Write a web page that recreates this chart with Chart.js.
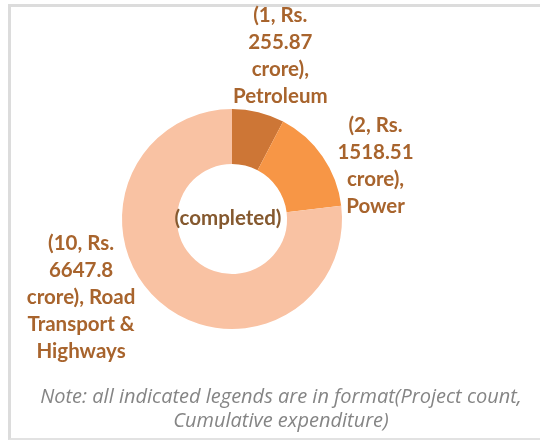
<!DOCTYPE html>
<html>
<head>
<meta charset="utf-8">
<script src="https://cdn.jsdelivr.net/npm/chart.js@4.4.1/dist/chart.umd.min.js"></script>
<style>
  html, body { margin: 0; padding: 0; background: #fff; }
  #wrap { position: relative; width: 540px; height: 444px; }
  #frame { position: absolute; left: 8px; top: 4px; width: 540px; height: 436px;
           border-top: 3px solid #dcdcdc; border-left: 3px solid #dcdcdc; border-bottom: 2px solid #e2e2e2; box-sizing: border-box; }
  canvas { position: absolute; left: 0; top: 0; }
</style>
</head>
<body>
<div id="wrap">
  <div id="frame"></div>
  <canvas id="c" width="540" height="444"></canvas>
</div>
<script>
// ---- data ----
const categories = ["Petroleum", "Power", "Road Transport & Highways"];
const projectCounts = [1, 2, 10];
const expenditureCrore = ["255.87", "1518.51", "6647.8"];
const sliceColors = ["#CD7636", "#F79646", "#F9C2A3"];
const centerText = "(completed)";
const noteLines = ["Note: all indicated legends are in format(Project count,", "Cumulative expenditure)"];
// label text lines (built from the data)
const labelLines = [
  ["(" + projectCounts[0] + ", Rs.", expenditureCrore[0], "crore),", categories[0]],
  ["(" + projectCounts[1] + ", Rs.", expenditureCrore[1], "crore),", categories[1]],
  ["(" + projectCounts[2] + ", Rs.", expenditureCrore[2], "crore), Road", "Transport &", "Highways"]
];
// label placement relative to arc: extra offset from the point at outer radius along mid angle
const labelOffsets = [[22, -56], [53, 9], [-78, -4]];

const labelPlugin = {
  id: 'labels',
  afterDatasetsDraw(chart) {
    const ctx = chart.ctx;
    const meta = chart.getDatasetMeta(0);
    ctx.save();
    ctx.textAlign = 'center';
    ctx.textBaseline = 'middle';
    ctx.fillStyle = '#A8642D';
    ctx.font = 'bold 20.5px Lato, "Open Sans", sans-serif';
    const lh = 27;
    meta.data.forEach((arc, i) => {
      const mid = (arc.startAngle + arc.endAngle) / 2;
      const r = arc.outerRadius;
      const bx = arc.x + Math.cos(mid) * r + labelOffsets[i][0];
      const by = arc.y + Math.sin(mid) * r + labelOffsets[i][1];
      const lines = labelLines[i];
      const top = by - (lines.length - 1) * lh / 2;
      lines.forEach((t, k) => ctx.fillText(t, bx, top + k * lh));
    });
    // center text
    const a0 = meta.data[0];
    ctx.fillStyle = '#85592F';
    ctx.font = 'bold 20.5px Lato, "Open Sans", sans-serif';
    ctx.fillText(centerText, a0.x - 4, a0.y - 1);
    // note
    ctx.fillStyle = '#858585';
    ctx.font = 'italic 20px "Open Sans", sans-serif';
    ctx.fillText(noteLines[0], 281, 397);
    ctx.fillText(noteLines[1], 281, 421);
    ctx.restore();
  }
};

new Chart(document.getElementById('c'), {
  type: 'doughnut',
  data: {
    labels: categories,
    datasets: [{
      data: projectCounts,
      backgroundColor: sliceColors,
      borderWidth: 0
    }]
  },
  options: {
    responsive: false,
    animation: false,
    cutout: '50%',
    layout: { padding: { left: 122, right: 198, top: 109, bottom: 115 } },
    plugins: { legend: { display: false }, tooltip: { enabled: false } }
  },
  plugins: [labelPlugin]
});
</script>
</body>
</html>
